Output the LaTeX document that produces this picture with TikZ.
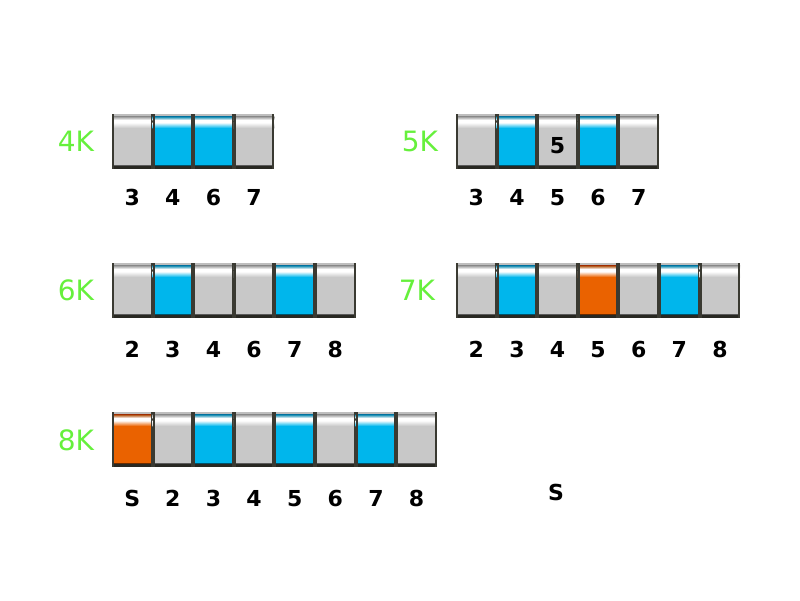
\documentclass[tikz,border=0pt]{standalone}
\usepackage{fontspec}
\newfontfamily\dvs{DejaVu Sans}
\definecolor{kgreen}{RGB}{102,240,60}
\definecolor{cgray}{RGB}{200,200,200}
\definecolor{cgraydk}{RGB}{150,150,150}
\definecolor{cblue}{RGB}{0,182,236}
\definecolor{cbluedk}{RGB}{0,130,170}
\definecolor{corange}{RGB}{234,98,0}
\definecolor{corangedk}{RGB}{170,70,0}
\definecolor{cedge}{RGB}{58,58,50}
\definecolor{cbottom}{RGB}{40,40,34}
\definecolor{ctop}{RGB}{190,190,190}
\newcommand\digitfont{\dvs\bfseries\fontsize{22}{22}\selectfont}
\newcommand\klfont{\dvs\fontsize{28}{28}\selectfont}
\newcommand\cellw{40.6}
% \kcell{x}{y}{body}{dark}
\newcommand\kcell[4]{%
  \fill[#3] (#1,#2) rectangle ++(\cellw,55);
  \fill[ctop] (#1,#2) rectangle ++(\cellw,2.5);
  \shade[top color=#4, bottom color=white] (#1,#2+2.5) rectangle ++(\cellw,3.5);
  \fill[white] (#1,#2+6) rectangle ++(\cellw,2.5);
  \shade[top color=white, bottom color=#3] (#1,#2+8.5) rectangle ++(\cellw,5.5);
  \fill[cbottom] (#1,#2+52) rectangle ++(\cellw,3);
  \fill[black!55!#3] (#1,#2+50.5) rectangle ++(\cellw,1.5);
  \draw[cedge, line width=2] (#1+1,#2) -- ++(0,55);
  \draw[cedge, line width=2] (#1+\cellw-1,#2) -- ++(0,55);
}
\tikzset{
  digit/.style={font=\digitfont, text=black, anchor=center, inner sep=0, text height=16, text depth=0},
  klabel/.style={font=\klfont, text=kgreen, anchor=center, inner sep=0}
}
\begin{document}
\begin{tikzpicture}[x=1pt,y=-1pt]
\useasboundingbox (0,0) rectangle (800,600);
\fill[white] (0,0) rectangle (800,600);

% ---- 4K ----
\node[klabel] (l4) at (76,141) {4K};
\foreach \c [count=\i from 0] in {g,b,b,g}{
  \pgfmathsetmacro\xx{112+\i*\cellw}
  \if\c g\kcell{\xx}{114}{cgray}{cgraydk}\fi
  \if\c b\kcell{\xx}{114}{cblue}{cbluedk}\fi
  \if\c o\kcell{\xx}{114}{corange}{corangedk}\fi
}
\foreach \t [count=\i from 0] in {3,4,6,7}{
  \node[digit] (d4-\i) at ({112+(\i+0.5)*\cellw},197) {\t};
}

% ---- 5K ----
\node[klabel] (l5) at (420,141) {5K};
\foreach \c [count=\i from 0] in {g,b,g,b,g}{
  \pgfmathsetmacro\xx{456+\i*\cellw}
  \if\c g\kcell{\xx}{114}{cgray}{cgraydk}\fi
  \if\c b\kcell{\xx}{114}{cblue}{cbluedk}\fi
  \if\c o\kcell{\xx}{114}{corange}{corangedk}\fi
}
\node[digit] (c5) at ({456+2.5*\cellw},145) {5};
\foreach \t [count=\i from 0] in {3,4,5,6,7}{
  \node[digit] (d5-\i) at ({456+(\i+0.5)*\cellw},197) {\t};
}

% ---- 6K ----
\node[klabel] (l6) at (76,290) {6K};
\foreach \c [count=\i from 0] in {g,b,g,g,b,g}{
  \pgfmathsetmacro\xx{112+\i*\cellw}
  \if\c g\kcell{\xx}{263}{cgray}{cgraydk}\fi
  \if\c b\kcell{\xx}{263}{cblue}{cbluedk}\fi
  \if\c o\kcell{\xx}{263}{corange}{corangedk}\fi
}
\foreach \t [count=\i from 0] in {2,3,4,6,7,8}{
  \node[digit] (d6-\i) at ({112+(\i+0.5)*\cellw},349) {\t};
}

% ---- 7K ----
\node[klabel] (l7) at (417,290) {7K};
\foreach \c [count=\i from 0] in {g,b,g,o,g,b,g}{
  \pgfmathsetmacro\xx{456+\i*\cellw}
  \if\c g\kcell{\xx}{263}{cgray}{cgraydk}\fi
  \if\c b\kcell{\xx}{263}{cblue}{cbluedk}\fi
  \if\c o\kcell{\xx}{263}{corange}{corangedk}\fi
}
\foreach \t [count=\i from 0] in {2,3,4,5,6,7,8}{
  \node[digit] (d7-\i) at ({456+(\i+0.5)*\cellw},349) {\t};
}

% ---- 8K ----
\node[klabel] (l8) at (76,440) {8K};
\foreach \c [count=\i from 0] in {o,g,b,g,b,g,b,g}{
  \pgfmathsetmacro\xx{112+\i*\cellw}
  \if\c g\kcell{\xx}{412}{cgray}{cgraydk}\fi
  \if\c b\kcell{\xx}{412}{cblue}{cbluedk}\fi
  \if\c o\kcell{\xx}{412}{corange}{corangedk}\fi
}
\foreach \t [count=\i from 0] in {S,2,3,4,5,6,7,8}{
  \node[digit] (d8-\i) at ({112+(\i+0.5)*\cellw},498) {\t};
}

\node[digit] (s) at (556,492) {S};
\end{tikzpicture}
\end{document}
